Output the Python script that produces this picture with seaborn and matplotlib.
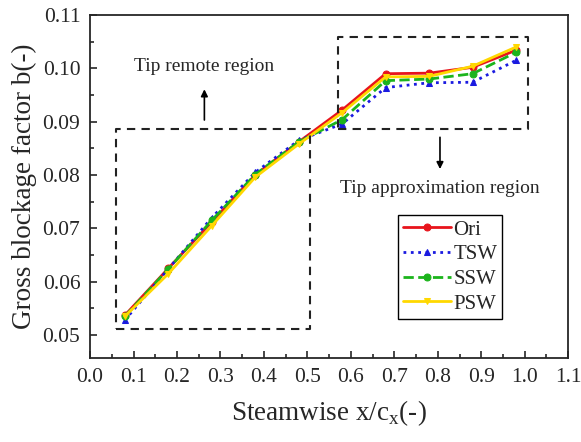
import numpy as np
import pandas as pd
import seaborn as sns
import matplotlib.pyplot as plt
from matplotlib.ticker import MultipleLocator

# Streamwise positions and blockage factor for each case
x_pos = [0.08, 0.18, 0.28, 0.38, 0.48, 0.58, 0.68, 0.78, 0.88, 0.98]
ori = [0.0537, 0.0625, 0.0712, 0.0800, 0.0862, 0.0922, 0.0990, 0.0991, 0.1002, 0.1034]
tsw = [0.0528, 0.0624, 0.0720, 0.0805, 0.0865, 0.0896, 0.0964, 0.0973, 0.0974, 0.1015]
ssw = [0.0535, 0.0624, 0.0715, 0.0801, 0.0862, 0.0904, 0.0977, 0.0980, 0.0990, 0.1030]
psw = [0.0535, 0.0615, 0.0705, 0.0796, 0.0858, 0.0917, 0.0984, 0.0985, 0.1004, 0.1040]
cases = ['Ori', 'TSW', 'SSW', 'PSW']

df = pd.DataFrame({
    'x': x_pos * 4,
    'b': ori + tsw + ssw + psw,
    'case': np.repeat(cases, len(x_pos)),
})

sns.set_style('ticks')
plt.rcParams['font.family'] = ['Liberation Serif', 'DejaVu Serif']

fig = plt.figure(figsize=(5.81, 4.42), dpi=100)
ax = fig.add_axes([0.155, 0.19, 0.823, 0.776])

colors = {'Ori': '#e8141c', 'TSW': '#1a1ae0', 'SSW': '#1cb41c', 'PSW': '#ffd800'}
styles = {'Ori': ('-', 'o'), 'TSW': (':', '^'), 'SSW': ('--', 'o'), 'PSW': ('-', 'v')}

for c in cases:
    ls, mk = styles[c]
    sns.lineplot(data=df[df['case'] == c], x='x', y='b', ax=ax, color=colors[c],
                 linestyle=ls, marker=mk, markersize=5, linewidth=2,
                 markeredgecolor=colors[c], label=c)

# Dashed region boxes
ax.plot([0.06, 0.505, 0.505, 0.06, 0.06], [0.0511, 0.0511, 0.0887, 0.0887, 0.0511],
        ls=(0, (4, 3)), color='#222222', lw=1.5)
ax.plot([0.57, 1.007, 1.007, 0.57, 0.57], [0.0887, 0.0887, 0.1058, 0.1058, 0.0887],
        ls=(0, (4, 3)), color='#222222', lw=1.5)

ax.annotate('', xy=(0.263, 0.0966), xytext=(0.263, 0.0898),
            arrowprops=dict(arrowstyle='-|>', color='black', lw=1.2))
ax.text(0.263, 0.1003, 'Tip remote region', ha='center', va='center', fontsize=14)
ax.annotate('', xy=(0.805, 0.0806), xytext=(0.805, 0.0876),
            arrowprops=dict(arrowstyle='-|>', color='black', lw=1.2))
ax.text(0.805, 0.0774, 'Tip approximation region', ha='center', va='center', fontsize=14)

ax.set_xlim(0, 1.1)
ax.set_ylim(0.0457, 0.11)
ax.xaxis.set_major_locator(MultipleLocator(0.1))
ax.xaxis.set_minor_locator(MultipleLocator(0.05))
ax.yaxis.set_major_locator(MultipleLocator(0.01))
ax.yaxis.set_minor_locator(MultipleLocator(0.005))
ax.xaxis.set_major_formatter(plt.FuncFormatter(lambda v, p: f'{v:.1f}'))
ax.yaxis.set_major_formatter(plt.FuncFormatter(lambda v, p: f'{v:.2f}'))
ax.tick_params(which='both', direction='in', top=False, right=False, labelsize=15.5, width=1.2)
ax.tick_params(which='major', length=5, pad=7)
ax.tick_params(which='minor', length=3)
for s in ax.spines.values():
    s.set_linewidth(1.3)

ax.set_xlabel('Steamwise x/c$_\\mathregular{x}$(-)', fontsize=19.5, labelpad=8)
ax.set_ylabel('Gross blockage factor b(-)', fontsize=19.5, labelpad=4)

leg = ax.legend(loc='upper left', bbox_to_anchor=(0.644, 0.417), borderaxespad=0,
                fontsize=15, handlelength=2.3, handletextpad=0.1, borderpad=0.25,
                labelspacing=0.24, fancybox=False, edgecolor='black', framealpha=1)
leg.get_frame().set_linewidth(1.0)

fig.savefig('out.png', dpi=100)
